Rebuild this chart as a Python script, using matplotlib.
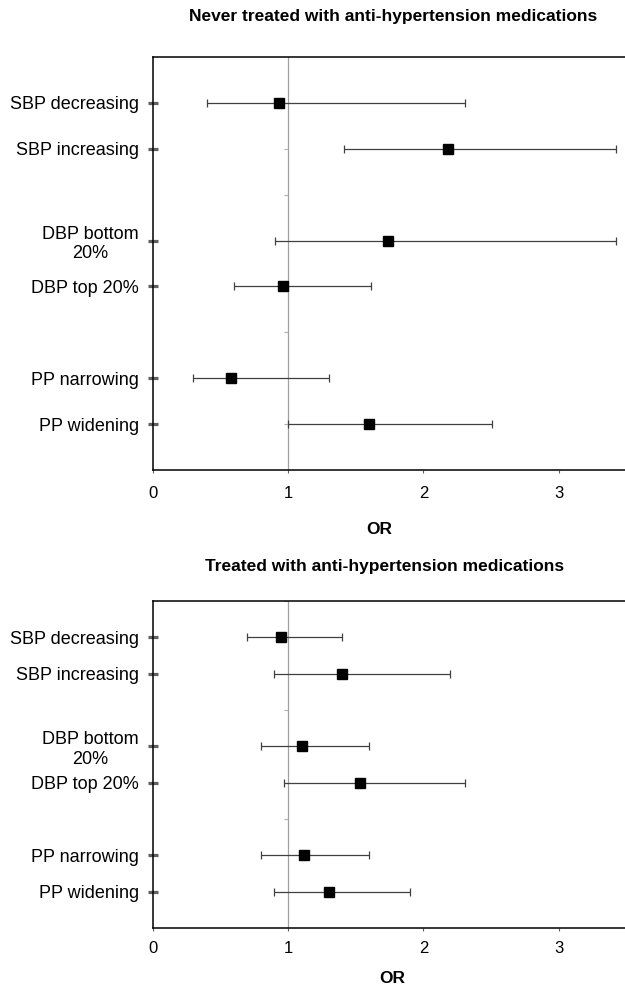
import matplotlib
matplotlib.use("Agg")
import matplotlib.pyplot as plt
import numpy as np

plt.rcParams['font.family'] = ['Liberation Sans', 'DejaVu Sans']

categories = ["SBP decreasing", "SBP increasing", "DBP bottom\n20%",
              "DBP top 20%", "PP narrowing", "PP widening"]
ypos = [1, 2, 4, 5, 7, 8]

# Never treated
never_or = [0.93, 2.18, 1.74, 0.96, 0.58, 1.60]
never_lo = [0.40, 1.41, 0.905, 0.60, 0.30, 1.00]
never_hi = [2.31, 3.42, 3.42, 1.61, 1.30, 2.51]

# Treated
treat_or = [0.95, 1.40, 1.10, 1.53, 1.12, 1.30]
treat_lo = [0.70, 0.90, 0.80, 0.97, 0.80, 0.90]
treat_hi = [1.40, 2.20, 1.60, 2.31, 1.60, 1.90]

xticks = [0, 1, 2, 3]
titles = ["Never treated with anti-hypertension medications",
          "Treated with anti-hypertension medications"]
small_marks = [[2, 3, 6, 8], [0, 3, 5, 6]]

W, H = 625, 988
fig = plt.figure(figsize=(W / 100, H / 100), dpi=100)

def fx(px):
    return px / W

def fy(py):
    return 1 - py / H

panels = [
    dict(top=57, bot=470, title_x=393, title_y=20.7, or_x=379, or_y=534.3,
         xpad=9, vals=(never_or, never_lo, never_hi)),
    dict(top=601, bot=928, title_x=385, title_y=570.7, or_x=392, or_y=983.3,
         xpad=7, vals=(treat_or, treat_lo, treat_hi)),
]

left_px, right_px = 152.6, 626.5
for i, p in enumerate(panels):
    ax = fig.add_axes([fx(left_px), fy(p['bot']), fx(right_px - left_px),
                       (p['bot'] - p['top']) / H])
    orv, lo, hi = p['vals']
    orv = np.array(orv); lo = np.array(lo); hi = np.array(hi)
    ax.set_xlim(0, 3.5)
    ax.set_ylim(9, 0)
    ax.axvline(1, color='#a0a0a0', lw=0.9, zorder=1)
    for m in small_marks[i]:
        ax.plot([0.97, 1.0], [m, m], color='#b0b0b0', lw=0.8,
                solid_capstyle='butt', zorder=1, clip_on=False)
    ax.errorbar(orv, ypos, xerr=[orv - lo, hi - orv], fmt='none',
                ecolor='#404040', elinewidth=0.9, capsize=3, capthick=0.9,
                zorder=2)
    ax.plot(orv, ypos, 's', color='black', markersize=7.5, zorder=3)
    ax.set_yticks(ypos)
    ax.set_yticklabels(categories, fontsize=13, multialignment='center')
    ax.set_xticks(xticks)
    ax.set_xticklabels([str(t) for t in xticks], fontsize=12)
    ax.tick_params(axis='y', direction='inout', length=7.7, width=2.3,
                   color='#606060', pad=6)
    ax.tick_params(axis='x', direction='out', length=2.5, width=0.8,
                   color='#606060', pad=p['xpad'])
    for s in ['left', 'bottom', 'top']:
        ax.spines[s].set_linewidth(1.1)
        ax.spines[s].set_color('black')
    ax.spines['right'].set_visible(False)
    fig.text(fx(p['title_x']), fy(p['title_y']), titles[i], ha='center',
             va='baseline', fontsize=12.5, fontweight='bold')
    fig.text(fx(p['or_x']), fy(p['or_y']), "OR", ha='center', va='baseline',
             fontsize=12.5, fontweight='bold')

fig.savefig("out.png", dpi=100)
